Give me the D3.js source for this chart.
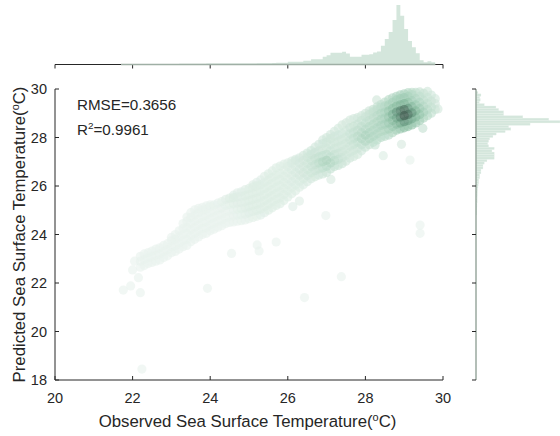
<!DOCTYPE html>
<html><head><meta charset="utf-8">
<script src="https://cdn.jsdelivr.net/npm/d3@7/dist/d3.min.js"></script>
<style>
body{margin:0;background:#fff}
svg{display:block}
text{font-family:"Liberation Sans",Arial,sans-serif;fill:#262626}
</style></head>
<body><svg id="c" width="560" height="436"></svg>
<script>
// ---------- data ----------
const xTicks=[20,22,24,26,28,30];
const yTicks=[18,20,22,24,26,28,30];
const xLabel="Observed Sea Surface Temperature(";
const yLabel="Predicted Sea Surface Temperature(";
const rmseText="RMSE=0.3656";
const r2Value="=0.9961";

// top histogram (observed), bins of 0.1 starting at 21.7
const topBinStart=21.7, binW=0.1;
const topCounts=[3,3,2,3,4,4,5,4,5,5,6,5,6,6,6,7,7,8,8,8,8,8,9,9,9,9,9,10,10,10,10,10,11,11,11,12,12,12,13,14,
17,17,17,27,27,27,27,37,37,53,53,53,77,93,117,117,117,127,110,77,77,77,97,97,103,120,130,187,253,323,443,593,487,353,233,173,113,43,23,33,23];

// right histogram (predicted), bins of 0.1 starting at 24.8
const rightBinStart=24.8;
const rightCounts=[7,8,8,10,10,12,12,13,14,15,17,20,22,27,27,37,37,50,50,70,70,83,110,183,183,183,160,183,127,117,127,137,170,203,293,350,327,543,843,730,470,277,277,227,200,83,33,43,37,50,20];

// scatter: band columns (observed) and predicted values in each column
const bandObs=[22.2,22.3,22.4,22.5,22.6,22.7,22.8,22.9,23.0,23.1,23.2,23.3,23.4,23.5,23.6,23.7,23.8,23.9,24.0,24.1,24.2,24.3,24.4,24.5,24.6,24.7,24.8,24.9,25.0,25.1,25.2,25.3,25.4,25.5,25.6,25.7,25.8,25.9,26.0,26.1,26.2,26.3,26.4,26.5,26.6,26.7,26.8,26.9,27.0,27.1,27.2,27.3,27.4,27.5,27.6,27.7,27.8,27.9,28.0,28.1,28.2,28.3,28.4,28.5,28.6,28.7,28.8,28.9,29.0,29.1,29.2,29.3,29.4,29.5,29.6,29.7,29.8];
const bandPred=[
[22.65,22.9,23.1],[22.72,22.97,23.2],[22.8,23.05,23.25],[22.85,23.1,23.32],[22.9,23.15,23.4],[22.95,23.2,23.45],[23.05,23.3,23.55],[23.12,23.38,23.62],
[23.25,23.5,23.75,23.88],[23.3,23.55,23.8,24.0],[23.4,23.65,23.9,24.15],[23.5,23.75,24.0,24.25,24.45],[23.55,23.8,24.05,24.3,24.55,24.72],
[23.7,23.95,24.2,24.45,24.7,24.9],[23.8,24.05,24.3,24.55,24.8,25.02],[23.9,24.15,24.4,24.65,24.9,25.08],[24.0,24.25,24.5,24.75,25.0,25.12],
[24.05,24.3,24.55,24.8,25.05,25.18],[24.15,24.4,24.65,24.9,25.15,25.22],[24.22,24.47,24.72,24.97,25.22],[24.3,24.55,24.8,25.05,25.3],
[24.36,24.6,24.85,25.1,25.36],[24.45,24.7,24.95,25.2,25.45],[24.5,24.75,25.0,25.25,25.5],[24.52,24.77,25.02,25.27,25.52,25.62],
[24.55,24.8,25.05,25.3,25.55,25.72],[24.57,24.82,25.07,25.32,25.57,25.76],[24.6,24.85,25.1,25.35,25.6,25.85],[24.65,24.9,25.15,25.4,25.65,25.9],
[24.7,24.95,25.2,25.45,25.7,25.95,26.05],[24.75,25.0,25.25,25.5,25.75,26.0,26.15],[24.8,25.05,25.3,25.55,25.8,26.05,26.25],
[24.9,25.15,25.4,25.65,25.9,26.15,26.4],[25.0,25.25,25.5,25.75,26.0,26.25,26.5],[25.1,25.35,25.6,25.85,26.1,26.35,26.62],
[25.2,25.45,25.7,25.95,26.2,26.45,26.75],[25.27,25.52,25.77,26.02,26.27,26.52,26.82],[25.4,25.65,25.9,26.15,26.4,26.65,26.9],
[25.55,25.8,26.05,26.3,26.55,26.8,26.95],[25.68,25.93,26.18,26.43,26.68,26.93,27.03],[25.8,26.05,26.3,26.55,26.8,27.05,27.1],
[25.95,26.2,26.45,26.7,26.95,27.16],[26.05,26.3,26.55,26.8,27.05,27.26],[26.18,26.43,26.68,26.93,27.18,27.36],[26.3,26.55,26.8,27.05,27.3,27.46],
[26.38,26.63,26.88,27.13,27.38,27.6],[26.45,26.7,26.95,27.2,27.45,27.72],[26.5,26.75,27.0,27.25,27.5,27.75,27.9],
[26.56,26.81,27.06,27.31,27.56,27.81,28.0],[26.7,26.95,27.2,27.45,27.7,27.95,28.12],[26.8,27.05,27.3,27.55,27.8,28.05,28.25],
[26.85,27.1,27.35,27.6,27.85,28.1,28.38],[26.92,27.17,27.42,27.67,27.92,28.17,28.52],[27.02,27.27,27.52,27.77,28.02,28.27,28.6],
[27.15,27.4,27.65,27.9,28.15,28.4,28.72],[27.22,27.47,27.72,27.97,28.22,28.47,28.78],[27.3,27.55,27.8,28.05,28.3,28.55,28.82],
[27.45,27.7,27.95,28.2,28.45,28.7,28.9],[27.6,27.85,28.1,28.35,28.6,28.85,29.0],[27.7,27.95,28.2,28.45,28.7,28.95,29.1],
[27.8,28.05,28.3,28.55,28.8,29.05,29.16],[27.9,28.15,28.4,28.65,28.9,29.15,29.26],[28.0,28.25,28.5,28.75,29.0,29.25,29.36],
[28.05,28.3,28.55,28.8,29.05,29.3,29.46],[28.1,28.35,28.6,28.85,29.1,29.35,29.56],[28.2,28.45,28.7,28.95,29.2,29.45,29.64],
[28.3,28.55,28.8,29.05,29.3,29.55,29.7],[28.35,28.6,28.85,29.1,29.35,29.6,29.76],[28.4,28.65,28.9,29.15,29.4,29.65,29.8],
[28.45,28.7,28.95,29.2,29.45,29.7,29.85],[28.52,28.77,29.02,29.27,29.52,29.77,29.86],[28.6,28.85,29.1,29.35,29.6,29.86],
[28.7,28.95,29.2,29.45,29.7,29.88],[28.8,29.05,29.3,29.55,29.82],[28.9,29.15,29.4,29.65,29.9],[29.0,29.25,29.5,29.75],[29.15,29.4,29.6]
];
// isolated points
const outObs=[22.24,21.76,21.95,22.2,22.0,22.15,22.05,23.93,24.55,25.21,25.26,25.7,26.98,27.38,26.43,29.41,29.41,28.46,29.15,29.48,28.93,28.25,27.11,29.87,28.29,26.13,26.3];
const outPred=[18.45,21.71,21.88,21.6,22.54,22.22,22.9,21.78,23.22,23.57,23.32,23.69,24.78,22.26,21.4,24.39,24.05,27.25,27.07,28.38,27.72,27.69,26.27,29.18,29.55,25.15,25.38];

const densObs=[22,22.5,23,23.5,24,24.5,25,25.5,26,26.5,27,27.5,28,28.5,29,29.5,30];
const densPred=[30,29.5,29,28.5,28,27.5,27,26.5,26,25.5,25,24.5,24];
const densLevels=[
[0,0,0,0,0,0,0,0,0,0,0,0,1,2,3,2,1],
[0,0,0,0,0,0,0,0,0,0,0,1,1,3,5,3,1],
[0,0,0,0,0,0,0,0,0,0,0,1,2,4,9,4,1],
[0,0,0,0,0,0,0,0,0,0,1,2,3,4,6,3,1],
[0,0,0,0,0,0,0,0,0,1,2,2,4,3,2,1,0],
[0,0,0,0,0,0,0,0,1,2,2,2,2,1,1,0,0],
[0,0,0,0,0,0,0,1,1,2,4,2,1,1,0,0,0],
[0,0,0,0,0,0,0,1,1,2,2,1,1,0,0,0,0],
[0,0,0,0,0,0,1,1,1,1,1,1,0,0,0,0,0],
[0,0,0,0,0,1,1,1,1,1,0,0,0,0,0,0,0],
[0,0,0,0,0,0,1,1,1,0,0,0,0,0,0,0,0],
[0,0,0,0,0,0,0,0,0,0,0,0,0,0,0,0,0],
[0,0,0,0,0,0,0,0,0,0,0,0,0,0,0,0,0]
];
const levelColors=["#e8f2ed","#ddede4","#d0e6da","#bfdecd","#a8d1bb","#93c4a9","#7bb094","#5f927a","#48695a","#36463f"];

// ---------- drawing ----------
const svg=d3.select("#c");
const ink="#262626";
const x=d3.scaleLinear().domain([20,30]).range([55,443]);
const y=d3.scaleLinear().domain([18,30]).range([380,89]);
const col=d3.scaleLinear().domain(d3.range(levelColors.length)).range(levelColors).interpolate(d3.interpolateRgb);

function lookup(o,p){
  const clamp=(v,a,b)=>Math.max(a,Math.min(b,v));
  const fo=clamp((o-densObs[0])/(densObs[1]-densObs[0]),0,densObs.length-1);
  const fp=clamp((densPred[0]-p)/(densPred[0]-densPred[1]),0,densPred.length-1);
  const i0=Math.min(Math.floor(fo),densObs.length-2), j0=Math.min(Math.floor(fp),densPred.length-2);
  const tx=fo-i0, ty=fp-j0;
  const g=(j,i)=>densLevels[j][i];
  return (g(j0,i0)*(1-tx)+g(j0,i0+1)*tx)*(1-ty)+(g(j0+1,i0)*(1-tx)+g(j0+1,i0+1)*tx)*ty;
}

const pts=[];
bandObs.forEach((o,i)=>bandPred[i].forEach(p=>pts.push({o,p})));
outObs.forEach((o,i)=>pts.push({o,p:outPred[i]}));
pts.forEach(d=>d.d=lookup(d.o,d.p));
pts.sort((a,b)=>a.d-b.d);

svg.append("g").selectAll("circle").data(pts).join("circle")
  .attr("cx",d=>x(d.o)).attr("cy",d=>y(d.p)).attr("r",4.6)
  .attr("fill",d=>col(d.d)).attr("fill-opacity",0.62);

// main axes
const ax=svg.append("g").attr("stroke",ink).attr("stroke-width",1).attr("fill","none");
ax.append("path").attr("d",`M${x(20)},${y(30)}V${y(18)}H${x(30)}`);
xTicks.forEach(t=>ax.append("line").attr("x1",x(t)).attr("x2",x(t)).attr("y1",y(18)).attr("y2",y(18)-4));
yTicks.forEach(t=>ax.append("line").attr("x1",x(20)).attr("x2",x(20)+4).attr("y1",y(t)).attr("y2",y(t)));

svg.append("g").selectAll("text").data(xTicks).join("text")
  .attr("x",d=>x(d)).attr("y",403).attr("text-anchor","middle").attr("font-size",14.5).text(d=>d);
svg.append("g").selectAll("text").data(yTicks).join("text")
  .attr("x",47).attr("y",d=>y(d)+5.2).attr("text-anchor","end").attr("font-size",14.5).text(d=>d);

// axis labels
function degLabel(sel,txt){
  sel.append("tspan").text(txt);
  sel.append("tspan").attr("font-size","65%").attr("dy","-0.55em").text("o");
  sel.append("tspan").attr("dy","0.36em").text("C)");
}
const xl=svg.append("text").attr("x",247.5).attr("y",427).attr("text-anchor","middle").attr("font-size",16.8);
degLabel(xl,xLabel);
const yl=svg.append("text").attr("transform","translate(25,234.5) rotate(-90)").attr("text-anchor","middle").attr("font-size",16.8);
degLabel(yl,yLabel);

// stats
svg.append("text").attr("x",77).attr("y",110).attr("font-size",15.2).text(rmseText);
const r2=svg.append("text").attr("x",77).attr("y",135).attr("font-size",15.2);
r2.append("tspan").text("R");
r2.append("tspan").attr("font-size","65%").attr("dy","-0.6em").text("2");
r2.append("tspan").attr("dy","0.39em").text(r2Value);

// top histogram (single step outline so bins join without seams)
const topBase=64.5;
const hy=d3.scaleLinear().domain([0,d3.max(topCounts)]).range([topBase,5]);
const th=svg.append("g");
th.append("line").attr("x1",x(20)).attr("x2",x(30)).attr("y1",topBase).attr("y2",topBase).attr("stroke",ink);
xTicks.forEach(t=>th.append("line").attr("x1",x(t)).attr("x2",x(t)).attr("y1",topBase).attr("y2",topBase+4).attr("stroke",ink));
const topSteps=topCounts.map((c,i)=>({e:topBinStart+i*binW,c}));
topSteps.push({e:topBinStart+topCounts.length*binW,c:0});
th.append("path")
  .attr("d",d3.area().x(d=>x(d.e)).y0(topBase).y1(d=>hy(d.c)).curve(d3.curveStepAfter)(topSteps))
  .attr("fill","#d4e6dc");
th.append("line").attr("x1",x(topBinStart)).attr("x2",x(topBinStart+topCounts.length*binW))
  .attr("y1",topBase).attr("y2",topBase).attr("stroke","#9fafa5").attr("stroke-width",1.3);

// right histogram
const rBase=476;
const hx=d3.scaleLinear().domain([0,d3.max(rightCounts)]).range([rBase,560]);
const rh=svg.append("g");
rh.selectAll("rect").data(rightCounts).join("rect")
  .attr("x",rBase)
  .attr("y",(c,i)=>y(rightBinStart+(i+1)*binW))
  .attr("height",(c,i)=>y(rightBinStart+i*binW)-y(rightBinStart+(i+1)*binW))
  .attr("width",c=>hx(c)-rBase)
  .attr("fill","#d4e6dc").attr("stroke","#e8f2ec").attr("stroke-width",0.3);
rh.append("line").attr("x1",rBase).attr("x2",rBase).attr("y1",y(30)).attr("y2",y(18)).attr("stroke","#93a399").attr("stroke-width",1.4);
yTicks.forEach(t=>rh.append("line").attr("x1",rBase-4).attr("x2",rBase).attr("y1",y(t)).attr("y2",y(t)).attr("stroke",ink));
</script></body></html>
